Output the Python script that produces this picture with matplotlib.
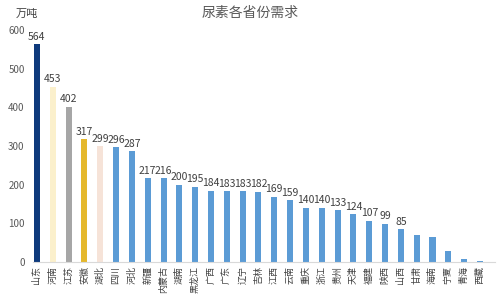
import matplotlib.pyplot as plt

plt.rcParams['font.family'] = ['Noto Sans CJK SC', 'DejaVu Sans']

provinces = ['山东', '河南', '江苏', '安徽', '湖北', '四川', '河北', '新疆', '内蒙古', '湖南',
             '黑龙江', '广西', '广东', '辽宁', '吉林', '江西', '云南', '重庆', '浙江', '贵州',
             '天津', '福建', '陕西', '山西', '甘肃', '海南', '宁夏', '青海', '西藏']
demand = [564, 453, 402, 317, 299, 296, 287, 217, 216, 200,
          195, 184, 183, 183, 182, 169, 159, 140, 140, 133,
          124, 107, 99, 85, 70, 65, 29, 7, 3]
# only the first 24 bars carry value labels
n_labeled = 24

blue = '#5b9bd5'
colors = ['#0e3a7c', '#fbf0cc', '#a6a6a6', '#e5b82c', '#f6e3d8'] + [blue] * (len(provinces) - 5)

fig = plt.figure(figsize=(5, 3), dpi=100)
ax = fig.add_axes([0.066, 0.127, 0.924, 0.773])

x = range(len(provinces))
ax.bar(x, demand, width=0.38, color=colors)

for i in range(n_labeled):
    ax.text(i, demand[i] + 6, str(demand[i]), ha='center', va='bottom',
            fontsize=7.5, color='#404040')

ax.set_ylim(0, 600)
ax.set_xlim(-0.25, 28.95)
ax.set_yticks(range(0, 601, 100))
ax.tick_params(axis='y', length=0, labelsize=7, labelcolor='#595959', pad=6)
ax.set_xticks(list(x))
ax.set_xticklabels(provinces, rotation=90, fontsize=6.5, color='#404040')
ax.tick_params(axis='x', length=0, pad=3)

for s in ['top', 'right', 'left']:
    ax.spines[s].set_visible(False)
ax.spines['bottom'].set_color('#d9d9d9')

fig.text(0.5, 0.958, '尿素各省份需求', ha='center', va='center', fontsize=10, color='#595959')
fig.text(0.032, 0.955, '万吨', ha='left', va='center', fontsize=8, color='#404040')

plt.savefig('out.png', dpi=100)
